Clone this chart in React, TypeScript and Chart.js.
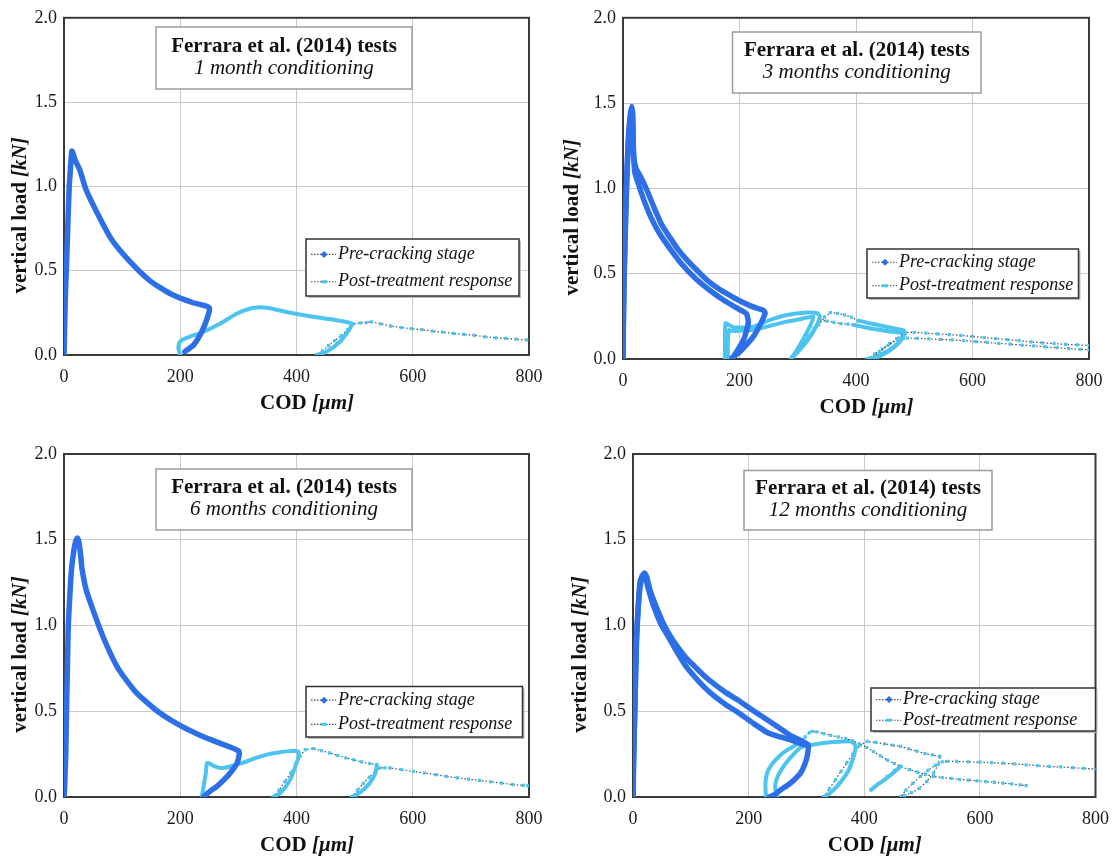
import React, { useEffect, useRef } from "react";
import { Chart, registerables } from "chart.js";

Chart.register(...registerables);

// ---------- shared labels ----------
const X_TICKS = [0, 200, 400, 600, 800];
const Y_TICKS = [0, 0.5, 1.0, 1.5, 2.0];
const SERIES_NAMES = ["Pre-cracking stage", "Post-treatment response"];
const PANEL_TITLE = "Ferrara et al. (2014) tests";
const SUBTITLES = [
  "1 month conditioning",
  "3 months conditioning",
  "6 months conditioning",
  "12 months conditioning",
];
const X_TITLE = ["COD ", "[μm]"];
const Y_TITLE = ["vertical load ", "[kN]"];

// ---------- 1 month ----------
const m1PreX = [0, 0.5, 1, 2, 3, 4, 6, 9, 11, 13.5, 16, 20, 27, 38, 56, 81, 112, 148, 185, 222, 240, 250, 247, 237, 223, 208];
const m1PreY = [0, 0.05, 0.15, 0.3, 0.42, 0.5, 0.71, 1.0, 1.1, 1.21, 1.19, 1.15, 1.1, 0.98, 0.85, 0.69, 0.56, 0.44, 0.36, 0.31, 0.295, 0.28, 0.225, 0.138, 0.06, 0.02];
const m1PostDX = [200, 197, 198, 203, 217, 240, 269, 297, 326, 349, 383, 423, 463, 495, 492, 475, 452, 435];
const m1PostDY = [0, 0.035, 0.07, 0.089, 0.109, 0.138, 0.187, 0.245, 0.28, 0.28, 0.255, 0.23, 0.21, 0.187, 0.158, 0.08, 0.02, 0];
const m1PostSX = [435, 445, 455, 466, 477, 488, 498, 510, 520, 529, 545, 562, 580, 598, 616, 634, 652, 670, 688, 706, 724, 742, 760, 778, 796];
const m1PostSY = [0, 0.025, 0.055, 0.085, 0.115, 0.15, 0.185, 0.19, 0.192, 0.196, 0.185, 0.172, 0.163, 0.156, 0.15, 0.142, 0.135, 0.128, 0.122, 0.117, 0.108, 0.102, 0.098, 0.094, 0.089];

// ---------- 3 months ----------
const m3PreAX = [0, 0.5, 2, 4, 6, 9, 12, 15, 17, 18, 22, 30, 41, 53, 66, 81, 95, 110, 127, 145, 165, 185, 201, 220, 241, 244, 238, 224, 201, 187];
const m3PreAY = [0, 0.2, 0.5, 0.75, 0.99, 1.28, 1.42, 1.48, 1.42, 1.2, 1.12, 1.07, 0.99, 0.89, 0.79, 0.71, 0.64, 0.58, 0.52, 0.46, 0.41, 0.37, 0.34, 0.31, 0.285, 0.27, 0.219, 0.132, 0.044, 0.006];
const m3PreBX = [0, 1, 4, 8, 12, 15, 17, 20, 26, 36, 48, 62, 80, 100, 125, 150, 175, 200, 212, 215, 207, 190];
const m3PreBY = [0, 0.3, 0.8, 1.2, 1.38, 1.44, 1.3, 1.1, 1.03, 0.93, 0.83, 0.74, 0.65, 0.56, 0.47, 0.4, 0.34, 0.29, 0.265, 0.21, 0.112, 0.015];
const m3PostC1X = [175, 175, 176, 181, 190, 205, 224, 253, 281, 316, 333, 338, 330, 315, 300, 290];
const m3PostC1Y = [0, 0.1, 0.21, 0.2, 0.185, 0.185, 0.19, 0.229, 0.258, 0.272, 0.268, 0.25, 0.18, 0.1, 0.04, 0.006];
const m3PostC2X = [290, 300, 312, 324, 336, 346, 356, 368, 380, 392, 404];
const m3PostC2Y = [0.006, 0.05, 0.1, 0.15, 0.2, 0.245, 0.272, 0.268, 0.258, 0.245, 0.225];
const m3PostC3X = [404, 420, 440, 460, 482, 484, 475, 458, 440, 425];
const m3PostC3Y = [0.225, 0.212, 0.198, 0.183, 0.168, 0.15, 0.1, 0.05, 0.015, 0];
const m3PostC4X = [425, 440, 455, 470, 484, 500, 520, 540, 560, 580, 600, 620, 640, 660, 680, 700, 720, 740, 760, 780, 800];
const m3PostC4Y = [0, 0.04, 0.08, 0.12, 0.155, 0.156, 0.152, 0.147, 0.143, 0.138, 0.132, 0.126, 0.12, 0.113, 0.107, 0.1, 0.095, 0.09, 0.086, 0.083, 0.08];
const m3PostD1X = [180, 180, 182, 186, 200, 224, 253, 281, 305, 327, 322, 310, 298, 288];
const m3PostD1Y = [0, 0.1, 0.17, 0.165, 0.165, 0.171, 0.195, 0.219, 0.235, 0.248, 0.2, 0.12, 0.05, 0];
const m3PostD2X = [288, 298, 308, 318, 328, 338, 350, 362, 374, 386, 396];
const m3PostD2Y = [0, 0.045, 0.09, 0.135, 0.18, 0.229, 0.222, 0.215, 0.208, 0.204, 0.2];
const m3PostD3X = [396, 410, 424, 440, 455, 470, 482, 478, 465, 448, 432, 419];
const m3PostD3Y = [0.2, 0.19, 0.18, 0.171, 0.163, 0.156, 0.151, 0.12, 0.07, 0.035, 0.01, 0];
const m3PostD4X = [419, 432, 445, 458, 472, 488, 505, 525, 545, 565, 585, 605, 625, 645, 665, 685, 705, 725, 745, 765, 785, 800];
const m3PostD4Y = [0, 0.03, 0.06, 0.09, 0.11, 0.122, 0.121, 0.118, 0.115, 0.112, 0.107, 0.102, 0.097, 0.092, 0.087, 0.082, 0.077, 0.071, 0.066, 0.061, 0.057, 0.054];

// ---------- 6 months ----------
const m6PreX = [0, 1, 2, 3, 4.3, 6, 7.4, 10.4, 13, 17, 20, 23, 26, 29, 31, 38, 50, 69, 93, 124, 161, 198, 234, 271, 301, 298, 286, 275, 263, 250, 240];
const m6PreY = [0, 0.05, 0.15, 0.25, 0.5, 0.78, 1.0, 1.2, 1.33, 1.44, 1.49, 1.51, 1.48, 1.4, 1.33, 1.21, 1.09, 0.92, 0.75, 0.61, 0.5, 0.42, 0.36, 0.31, 0.266, 0.2, 0.14, 0.1, 0.062, 0.03, 0];
const m6PostD1X = [237, 240, 244, 246, 250, 254, 262, 269, 278, 286, 300, 314, 330, 349, 366, 383, 395, 403, 404, 400, 389, 372, 360];
const m6PostD1Y = [0, 0.06, 0.14, 0.198, 0.196, 0.188, 0.175, 0.169, 0.172, 0.178, 0.192, 0.207, 0.228, 0.247, 0.258, 0.266, 0.268, 0.266, 0.24, 0.198, 0.1, 0.023, 0];
const m6PostS1X = [360, 370, 380, 390, 398, 406, 415, 429, 443, 457, 471, 485, 498, 512, 526, 538];
const m6PostS1Y = [0, 0.04, 0.09, 0.14, 0.19, 0.237, 0.276, 0.282, 0.27, 0.257, 0.242, 0.228, 0.217, 0.205, 0.195, 0.188];
const m6PostD2X = [538, 536, 526, 514, 503, 495];
const m6PostD2Y = [0.188, 0.14, 0.082, 0.04, 0.013, 0];
const m6PostS2X = [495, 505, 515, 525, 535, 543, 552, 561, 580, 601, 620, 640, 658, 677, 696, 715, 734, 753, 772, 790, 798];
const m6PostS2Y = [0, 0.04, 0.08, 0.115, 0.145, 0.169, 0.17, 0.169, 0.16, 0.149, 0.14, 0.13, 0.12, 0.112, 0.104, 0.097, 0.089, 0.081, 0.072, 0.068, 0.066];

// ---------- 12 months ----------
const m12PreAX = [0, 0.5, 1.5, 3, 6, 9, 12, 16, 20, 24, 30, 40, 52, 64, 77, 92, 107, 122, 138, 160, 181, 205, 230, 252, 272, 290, 303, 302, 298, 290, 279, 268, 256, 245, 236];
const m12PreAY = [0, 0.14, 0.3, 0.49, 0.92, 1.11, 1.25, 1.29, 1.306, 1.28, 1.2, 1.11, 1.015, 0.94, 0.875, 0.81, 0.76, 0.71, 0.665, 0.61, 0.567, 0.51, 0.455, 0.405, 0.36, 0.33, 0.305, 0.25, 0.198, 0.14, 0.101, 0.07, 0.043, 0.014, 0];
const m12PreBX = [0, 1, 3, 6, 10, 14, 18, 21, 26, 35, 48, 62, 77, 92, 107, 122, 138, 160, 183, 208, 234, 255, 275, 292, 297];
const m12PreBY = [0, 0.2, 0.5, 0.9, 1.15, 1.26, 1.29, 1.29, 1.22, 1.12, 1.01, 0.93, 0.84, 0.76, 0.7, 0.645, 0.595, 0.54, 0.49, 0.43, 0.373, 0.35, 0.33, 0.31, 0.305];
const m12PostE1X = [230, 229, 232, 240, 252, 265, 280, 290];
const m12PostE1Y = [0, 0.08, 0.14, 0.19, 0.235, 0.27, 0.3, 0.32];
const m12PostE2X = [290, 298, 305, 310, 318, 330, 342, 355, 368, 380, 392, 404, 416, 428, 440, 452, 463];
const m12PostE2Y = [0.32, 0.35, 0.375, 0.383, 0.38, 0.37, 0.36, 0.35, 0.34, 0.327, 0.31, 0.29, 0.265, 0.24, 0.215, 0.195, 0.178];
const m12PostE3X = [463, 450, 435, 420, 412];
const m12PostE3Y = [0.178, 0.14, 0.1, 0.065, 0.043];
const m12PostE4X = [412, 425, 440, 452, 463, 478, 492, 506, 520, 535, 550, 565, 580, 595, 610, 625, 640, 655, 670, 680];
const m12PostE4Y = [0.043, 0.08, 0.12, 0.155, 0.178, 0.16, 0.145, 0.132, 0.12, 0.113, 0.108, 0.103, 0.099, 0.094, 0.09, 0.086, 0.081, 0.076, 0.07, 0.066];
const m12PostF1X = [250, 246, 248, 255, 265, 278, 291, 310, 337, 357, 377, 385, 382, 372, 355, 340, 330];
const m12PostF1Y = [0, 0.05, 0.1, 0.15, 0.2, 0.25, 0.29, 0.305, 0.318, 0.322, 0.324, 0.3, 0.24, 0.15, 0.07, 0.02, 0];
const m12PostF2X = [330, 340, 350, 360, 370, 380, 392, 405, 420, 435, 449, 463, 477, 491, 505, 518, 531, 528, 520, 508, 495, 482, 470, 463, 472, 484, 497, 510, 523, 535, 543, 560, 580, 600, 620, 640, 660, 680, 700, 720, 740, 760, 780, 800];
const m12PostF2Y = [0, 0.05, 0.1, 0.15, 0.2, 0.25, 0.3, 0.324, 0.318, 0.31, 0.302, 0.295, 0.28, 0.267, 0.253, 0.245, 0.237, 0.19, 0.14, 0.09, 0.05, 0.025, 0.01, 0.003, 0.04, 0.08, 0.12, 0.155, 0.185, 0.205, 0.208, 0.207, 0.205, 0.203, 0.2, 0.197, 0.193, 0.188, 0.183, 0.178, 0.175, 0.171, 0.167, 0.163];

// ---------- styling ----------
const DARK = "#2d6fe6";
const LIGHT = "#4cc4ef";
const DOT = "#4a4a4a";
const GRID = "#c9c9c9";
const FONT = "'Liberation Serif', 'Times New Roman', Times, serif";

type Seg = { kind: "pre" | "post"; sparse: boolean; xs: number[]; ys: number[] };
type Box = { x: number; y: number; w: number; h: number };
type PanelCfg = {
  left: number;
  top: number;
  width: number;
  height: number;
  plot: { l: number; t: number; r: number; b: number };
  titleBox: Box;
  legendBox: Box;
  yTitleX: number;
  subtitle: string;
  segs: Seg[];
};

const seg = (kind: "pre" | "post", sparse: boolean, xs: number[], ys: number[]): Seg => ({ kind, sparse, xs, ys });

const PANELS: PanelCfg[] = [
  {
    left: 0, top: 0, width: 560, height: 431,
    plot: { l: 64, t: 13, r: 529, b: 355 },
    titleBox: { x: 156, y: 27, w: 256, h: 62 },
    legendBox: { x: 306, y: 239, w: 213, h: 57 },
    yTitleX: 21,
    subtitle: SUBTITLES[0],
    segs: [
      seg("pre", false, m1PreX, m1PreY),
      seg("post", false, m1PostDX, m1PostDY),
      seg("post", true, m1PostSX, m1PostSY),
    ],
  },
  {
    left: 560, top: 0, width: 560, height: 431,
    plot: { l: 63, t: 16, r: 529, b: 359 },
    titleBox: { x: 172.5, y: 32, w: 248.5, h: 61 },
    legendBox: { x: 307, y: 249, w: 211.5, h: 49 },
    yTitleX: 13,
    subtitle: SUBTITLES[1],
    segs: [
      seg("pre", false, m3PreAX, m3PreAY),
      seg("pre", false, m3PreBX, m3PreBY),
      seg("post", false, m3PostC1X, m3PostC1Y),
      seg("post", true, m3PostC2X, m3PostC2Y),
      seg("post", false, m3PostC3X, m3PostC3Y),
      seg("post", true, m3PostC4X, m3PostC4Y),
      seg("post", false, m3PostD1X, m3PostD1Y),
      seg("post", true, m3PostD2X, m3PostD2Y),
      seg("post", false, m3PostD3X, m3PostD3Y),
      seg("post", true, m3PostD4X, m3PostD4Y),
    ],
  },
  {
    left: 0, top: 431, width: 560, height: 432,
    plot: { l: 64, t: 23, r: 529, b: 366 },
    titleBox: { x: 156, y: 38, w: 256, h: 61 },
    legendBox: { x: 306, y: 255.5, w: 216.5, h: 50.5 },
    yTitleX: 21,
    subtitle: SUBTITLES[2],
    segs: [
      seg("pre", false, m6PreX, m6PreY),
      seg("post", false, m6PostD1X, m6PostD1Y),
      seg("post", true, m6PostS1X, m6PostS1Y),
      seg("post", false, m6PostD2X, m6PostD2Y),
      seg("post", true, m6PostS2X, m6PostS2Y),
    ],
  },
  {
    left: 560, top: 431, width: 560, height: 432,
    plot: { l: 73, t: 23, r: 540, b: 366 },
    titleBox: { x: 184, y: 39.5, w: 248, h: 59.5 },
    legendBox: { x: 311, y: 257, w: 224.5, h: 43 },
    yTitleX: 21,
    subtitle: SUBTITLES[3],
    segs: [
      seg("pre", false, m12PreAX, m12PreAY),
      seg("pre", false, m12PreBX, m12PreBY),
      seg("post", false, m12PostE1X, m12PostE1Y),
      seg("post", true, m12PostE2X, m12PostE2Y),
      seg("post", false, m12PostE3X, m12PostE3Y),
      seg("post", true, m12PostE4X, m12PostE4Y),
      seg("post", false, m12PostF1X, m12PostF1Y),
      seg("post", true, m12PostF2X, m12PostF2Y),
    ],
  },
];

type Part = { text: string; font: string };

function drawMixed(ctx: CanvasRenderingContext2D, parts: Part[], cx: number, cy: number) {
  const widths = parts.map((p) => {
    ctx.font = p.font;
    return ctx.measureText(p.text).width;
  });
  const total = widths.reduce((a, b) => a + b, 0);
  let x = cx - total / 2;
  ctx.textAlign = "left";
  ctx.textBaseline = "middle";
  parts.forEach((p, i) => {
    ctx.font = p.font;
    ctx.fillText(p.text, x, cy);
    x += widths[i];
  });
}

function makeOverlay(cfg: PanelCfg) {
  return {
    id: "overlay",
    beforeDatasetsDraw(chart: any) {
      const { ctx, chartArea: a } = chart;
      ctx.save();
      ctx.strokeStyle = "#3a3a3a";
      ctx.lineWidth = 2;
      ctx.strokeRect(a.left, a.top, a.right - a.left, a.bottom - a.top);
      ctx.restore();
    },
    afterDatasetsDraw(chart: any) {
      const ctx: CanvasRenderingContext2D = chart.ctx;
      ctx.save();
      // title box
      const tb = cfg.titleBox;
      ctx.fillStyle = "#ffffff";
      ctx.fillRect(tb.x, tb.y, tb.w, tb.h);
      ctx.strokeStyle = "#9c9c9c";
      ctx.lineWidth = 1.5;
      ctx.strokeRect(tb.x, tb.y, tb.w, tb.h);
      ctx.fillStyle = "#111111";
      ctx.textAlign = "center";
      ctx.textBaseline = "middle";
      ctx.font = `bold 21px ${FONT}`;
      ctx.fillText(PANEL_TITLE, tb.x + tb.w / 2, tb.y + tb.h * 0.31);
      ctx.font = `italic 21px ${FONT}`;
      ctx.fillText(cfg.subtitle, tb.x + tb.w / 2, tb.y + tb.h * 0.67);

      // legend box
      const lb = cfg.legendBox;
      ctx.fillStyle = "#bdbdbd";
      ctx.fillRect(lb.x + 2, lb.y + 2, lb.w, lb.h);
      ctx.fillStyle = "#ffffff";
      ctx.fillRect(lb.x, lb.y, lb.w, lb.h);
      ctx.strokeStyle = "#333333";
      ctx.lineWidth = 1.5;
      ctx.strokeRect(lb.x, lb.y, lb.w, lb.h);
      const rows = [lb.y + lb.h * 0.27, lb.y + lb.h * 0.75];
      rows.forEach((ry, i) => {
        ctx.strokeStyle = DOT;
        ctx.lineWidth = 1.2;
        ctx.setLineDash([1.5, 1.5]);
        ctx.beginPath();
        ctx.moveTo(lb.x + 5, ry);
        ctx.lineTo(lb.x + 30, ry);
        ctx.stroke();
        ctx.setLineDash([]);
        const mx = lb.x + 18;
        if (i === 0) {
          ctx.fillStyle = DARK;
          ctx.beginPath();
          ctx.moveTo(mx, ry - 3.5);
          ctx.lineTo(mx + 3.5, ry);
          ctx.lineTo(mx, ry + 3.5);
          ctx.lineTo(mx - 3.5, ry);
          ctx.closePath();
          ctx.fill();
        } else {
          ctx.fillStyle = LIGHT;
          ctx.fillRect(mx - 3, ry - 1.5, 6, 3);
        }
        ctx.fillStyle = "#111111";
        ctx.font = `italic 18px ${FONT}`;
        ctx.textAlign = "left";
        ctx.textBaseline = "middle";
        ctx.fillText(SERIES_NAMES[i], lb.x + 32, ry);
      });
      ctx.restore();
    },
    afterDraw(chart: any) {
      const ctx: CanvasRenderingContext2D = chart.ctx;
      const a = chart.chartArea;
      ctx.save();
      ctx.fillStyle = "#111111";
      drawMixed(
        ctx,
        [
          { text: X_TITLE[0], font: `bold 21px ${FONT}` },
          { text: X_TITLE[1], font: `italic bold 21px ${FONT}` },
        ],
        (a.left + a.right) / 2 + 10.5,
        a.bottom + 49
      );
      ctx.translate(cfg.yTitleX, (a.top + a.bottom) / 2 + 29);
      ctx.rotate(-Math.PI / 2);
      drawMixed(
        ctx,
        [
          { text: Y_TITLE[0], font: `bold 21px ${FONT}` },
          { text: Y_TITLE[1], font: `italic bold 21px ${FONT}` },
        ],
        0,
        0
      );
      ctx.restore();
    },
  };
}

function Panel({ cfg }: { cfg: PanelCfg }) {
  const ref = useRef<HTMLCanvasElement>(null);
  useEffect(() => {
    const canvas = ref.current;
    if (!canvas) return;
    const ordered = [...cfg.segs.filter((s) => s.kind === "pre"), ...cfg.segs.filter((s) => s.kind === "post")];
    const datasets = ordered.map((s) => {
      const data = s.xs.map((x, i) => ({ x, y: s.ys[i] }));
      if (s.sparse) {
        return {
          label: SERIES_NAMES[1],
          data,
          showLine: true,
          borderColor: DOT,
          borderWidth: 1.2,
          borderDash: [1.5, 2],
          tension: 0,
          pointRadius: 2.3,
          pointStyle: "rect",
          pointBackgroundColor: LIGHT,
          pointBorderWidth: 0,
        };
      }
      return {
        label: s.kind === "pre" ? SERIES_NAMES[0] : SERIES_NAMES[1],
        data,
        showLine: true,
        borderColor: s.kind === "pre" ? DARK : LIGHT,
        borderWidth: s.kind === "pre" ? 5.5 : 4,
        tension: 0.2,
        pointRadius: 0,
        borderCapStyle: "round",
        borderJoinStyle: "round",
      };
    });
    const { plot, width, height } = cfg;
    const tickFont = { family: FONT, size: 18 };
    const chart = new Chart(canvas, {
      type: "scatter",
      data: { datasets: datasets as any },
      options: {
        responsive: false,
        animation: false,
        devicePixelRatio: 1,
        events: [],
        layout: { padding: { left: 0, top: plot.t, right: width - plot.r, bottom: 0 } },
        plugins: { legend: { display: false }, tooltip: { enabled: false }, title: { display: false } },
        scales: {
          x: {
            type: "linear",
            min: X_TICKS[0],
            max: X_TICKS[X_TICKS.length - 1],
            afterBuildTicks: (s: any) => {
              s.ticks = X_TICKS.map((v) => ({ value: v }));
            },
            afterFit: (s: any) => {
              s.height = height - plot.b;
            },
            grid: { color: GRID, lineWidth: 1, drawTicks: false },
            border: { display: false },
            ticks: {
              padding: 11,
              color: "#1a1a1a",
              font: tickFont,
              maxRotation: 0,
              autoSkip: false,
              callback: (v: any) => String(v),
            },
          },
          y: {
            type: "linear",
            min: Y_TICKS[0],
            max: Y_TICKS[Y_TICKS.length - 1],
            afterBuildTicks: (s: any) => {
              s.ticks = Y_TICKS.map((v) => ({ value: v }));
            },
            afterFit: (s: any) => {
              s.width = plot.l;
            },
            grid: { color: GRID, lineWidth: 1, drawTicks: false },
            border: { display: false },
            ticks: {
              padding: 7,
              color: "#1a1a1a",
              font: tickFont,
              autoSkip: false,
              callback: (v: any) => Number(v).toFixed(1),
            },
          },
        },
      } as any,
      plugins: [makeOverlay(cfg) as any],
    });
    return () => chart.destroy();
  }, [cfg]);
  return (
    <canvas
      ref={ref}
      width={cfg.width}
      height={cfg.height}
      style={{ position: "absolute", left: cfg.left, top: cfg.top, width: cfg.width, height: cfg.height, display: "block" }}
    />
  );
}

export default function App() {
  return (
    <div style={{ position: "fixed", left: 0, top: 0, width: 1120, height: 863, background: "#ffffff", overflow: "hidden" }}>
      {PANELS.map((p, i) => (
        <Panel key={i} cfg={p} />
      ))}
    </div>
  );
}
